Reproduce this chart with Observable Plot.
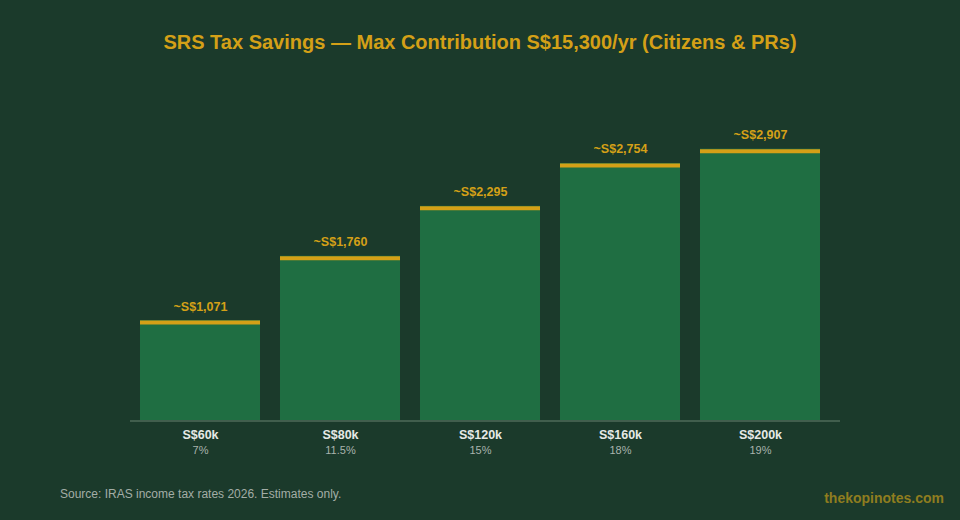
<!DOCTYPE html>
<html>
<head>
<meta charset="utf-8">
<script src="https://cdn.jsdelivr.net/npm/d3@7"></script>
<script src="https://cdn.jsdelivr.net/npm/@observablehq/plot@0.6"></script>
<style>
  html, body { margin: 0; padding: 0; background: #1b3a2b; }
  body { width: 960px; height: 520px; position: relative; overflow: hidden; font-family: "Liberation Sans", Arial, Helvetica, sans-serif; }
  #title { height: 80px; box-sizing: border-box; padding-top: 29px; text-align: center; color: #d4a017; font-weight: bold; font-size: 20px; line-height: 26px; }
  #chart svg { display: block; }
  #source { position: absolute; left: 60px; top: 487px; font-size: 12px; color: #a3ada6; }
  #brand { position: absolute; right: 16px; top: 490px; font-size: 14px; font-weight: bold; color: #8f7d1f; }
</style>
</head>
<body>
<div id="title">SRS Tax Savings — Max Contribution S$15,300/yr (Citizens &amp; PRs)</div>
<div id="chart"></div>
<div id="source">Source: IRAS income tax rates 2026. Estimates only.</div>
<div id="brand">thekopinotes.com</div>
<script>
const incomes = ["S$60k", "S$80k", "S$120k", "S$160k", "S$200k"];
const rates = ["7%", "11.5%", "15%", "18%", "19%"];
const savings = [1071, 1760, 2295, 2754, 2907];

const data = incomes.map((income, i) => ({income, rate: rates[i], saving: savings[i]}));

const chart = Plot.plot({
  width: 960,
  height: 380,
  marginTop: 60,
  marginBottom: 40,
  marginLeft: 130,
  marginRight: 120,
  style: {background: "transparent", fontFamily: "Liberation Sans, Arial, sans-serif"},
  x: {domain: incomes, range: [130, 830], paddingInner: 1 / 7, paddingOuter: 1 / 14, axis: null},
  y: {domain: [0, 3000], axis: null},
  marks: [
    Plot.barY(data, {x: "income", y: "saving", fill: "#1f6e42"}),
    Plot.tickY(data, {x: "income", y: "saving", stroke: "#d4a017", strokeWidth: 4, dy: 2}),
    Plot.text(data, {x: "income", y: "saving", text: d => "~S$" + d3.format(",")(d.saving), dy: -14, fill: "#d4a017", fontWeight: "bold", fontSize: 12.5}),
    Plot.ruleY([0], {stroke: "#4f6b5a", strokeWidth: 1.5, dy: 0.5}),
    Plot.text(data, {x: "income", y: () => 0, text: "income", dy: 14, fill: "#e6e9e6", fontWeight: "bold", fontSize: 12.5}),
    Plot.text(data, {x: "income", y: () => 0, text: "rate", dy: 30, fill: "#a9b3ad", fontSize: 11})
  ]
});
document.getElementById("chart").appendChild(chart);
</script>
</body>
</html>
